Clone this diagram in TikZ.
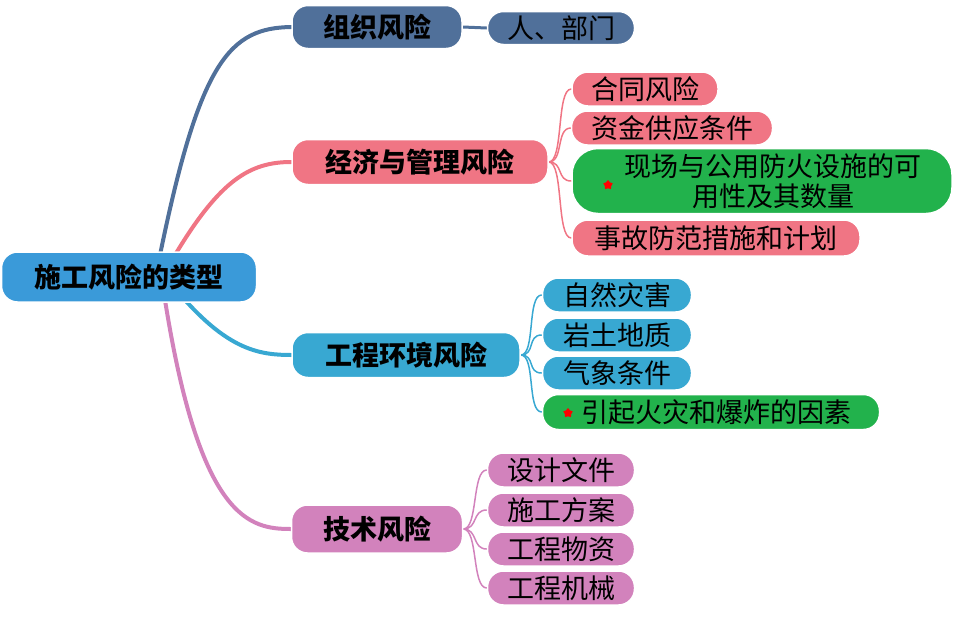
\documentclass[tikz,border=0pt]{standalone}
\usepackage{fontspec}
\setmainfont{Noto Sans CJK SC}
\usetikzlibrary{shapes.geometric,backgrounds}
\definecolor{cRoot}{HTML}{3A9AD9}
\definecolor{cOrg}{HTML}{50709A}
\definecolor{cEco}{HTML}{F07584}
\definecolor{cEnv}{HTML}{38A8D2}
\definecolor{cTec}{HTML}{D282BC}
\definecolor{cGrn}{HTML}{22B24C}
\tikzset{
  box/.style={rounded corners=16pt,draw=white,line width=1.5pt,inner sep=0pt,align=center,font=\fontsize{27}{31}\selectfont},
  mainbox/.style={box,font=\bfseries\fontsize{27}{31}\selectfont},
  redstar/.style={star,star points=5,fill=red,minimum size=10pt,inner sep=0pt},
  link/.style={line width=#1,line cap=round}
}
\begin{document}
\begin{tikzpicture}[x=1pt,y=-1pt]
\useasboundingbox (0,0) rectangle (954,622);
% root
\node[mainbox,fill=cRoot,minimum width=255pt,minimum height=50pt] (root) at (129,277) {施工风险的类型};
% main branches
\node[mainbox,fill=cOrg,minimum width=170pt,minimum height=43pt] (org) at (377,27) {组织风险};
\node[mainbox,fill=cEco,minimum width=256pt,minimum height=45pt] (eco) at (420,162) {经济与管理风险};
\node[mainbox,fill=cEnv,minimum width=228pt,minimum height=45pt] (env) at (406,355) {工程环境风险};
\node[mainbox,fill=cTec,minimum width=171pt,minimum height=48pt] (tec) at (377,529) {技术风险};
% leaves
\node[box,fill=cOrg,minimum width=147pt,minimum height=33pt] (o1) at (561,28) {人、部门};
\node[box,fill=cEco,minimum width=146pt,minimum height=34pt] (e1) at (645,89) {合同风险};
\node[box,fill=cEco,minimum width=201pt,minimum height=34pt] (e2) at (672,128) {资金供应条件};
\node[box,fill=cGrn,minimum width=380pt,minimum height=65pt,rounded corners=26pt,font=\fontsize{27}{30}\selectfont] (e3) at (762,181) {\hspace*{22pt}现场与公用防火设施的可\\\hspace*{22pt}用性及其数量};
\node[box,fill=cEco,minimum width=288pt,minimum height=36pt] (e4) at (716,238) {事故防范措施和计划};
\node[box,fill=cEnv,minimum width=149pt,minimum height=34pt] (n1) at (617,295) {自然灾害};
\node[box,fill=cEnv,minimum width=149pt,minimum height=34pt] (n2) at (617,335) {岩土地质};
\node[box,fill=cEnv,minimum width=149pt,minimum height=34pt] (n3) at (617,373) {气象条件};
\node[box,fill=cGrn,minimum width=337pt,minimum height=35pt] (n4) at (711,412) {\hspace*{10pt}引起火灾和爆炸的因素};
\node[box,fill=cTec,minimum width=147pt,minimum height=34pt] (t1) at (561,470) {设计文件};
\node[box,fill=cTec,minimum width=147pt,minimum height=34pt] (t2) at (561,510) {施工方案};
\node[box,fill=cTec,minimum width=147pt,minimum height=34pt] (t3) at (561,549) {工程物资};
\node[box,fill=cTec,minimum width=147pt,minimum height=34pt] (t4) at (561,588) {工程机械};
\node[redstar] (s1) at (608,185) {};
\node[redstar] (s2) at (568,413) {};
\begin{scope}[on background layer]
\coordinate (r1) at (160,255);
\coordinate (r2) at (175,255);
\coordinate (r3) at (185,300);
\coordinate (r4) at (165,300);
\draw[link=4pt,cOrg] (r1) .. controls (200,60) and (230,28) .. (org.west);
\draw[link=4pt,cEco] (r2) .. controls (220,180) and (250,162) .. (eco.west);
\draw[link=4pt,cEnv] (r3) .. controls (230,350) and (260,355) .. (env.west);
\draw[link=4pt,cTec] (r4) .. controls (200,520) and (250,529) .. (tec.west);
\draw[link=3pt,cOrg] (org.east) -- (o1.west);
\foreach \c in {e1,e2,e3,e4}{\draw[link=1.5pt,cEco] (eco.east) .. controls +(15,0) and +(-15,0) .. (\c.west);}
\foreach \c in {n1,n2,n3,n4}{\draw[link=1.5pt,cEnv] (env.east) .. controls +(15,0) and +(-15,0) .. (\c.west);}
\foreach \c in {t1,t2,t3,t4}{\draw[link=1.5pt,cTec] (tec.east) .. controls +(15,0) and +(-15,0) .. (\c.west);}
\end{scope}
\end{tikzpicture}
\end{document}
